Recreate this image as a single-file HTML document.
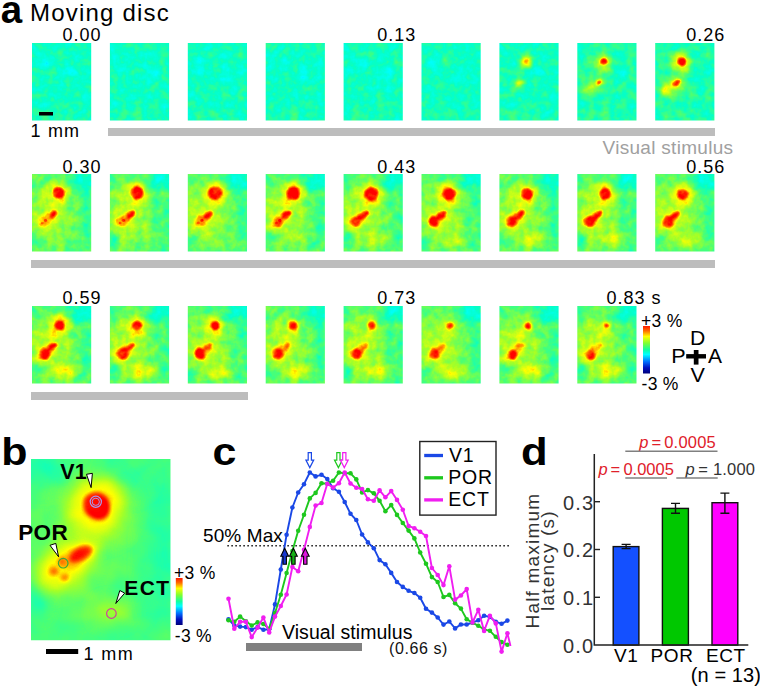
<!DOCTYPE html><html><head><meta charset="utf-8"><style>
html,body{margin:0;padding:0;background:#fff;}
body{width:760px;height:688px;overflow:hidden;position:relative;font-family:'Liberation Sans', sans-serif;}
svg{position:absolute;left:0;top:0;}
</style></head><body>
<svg width="760" height="688" viewBox="0 0 760 688" font-family="'Liberation Sans', sans-serif">
<defs>
<filter id="jet0" x="0" y="0" width="1" height="1" color-interpolation-filters="sRGB"><feTurbulence type="fractalNoise" baseFrequency="0.12" numOctaves="3" seed="7" result="n"/><feColorMatrix in="n" type="matrix" values="1 0 0 0 0  1 0 0 0 0  1 0 0 0 0  0 0 0 0 1" result="ng"/><feComposite in="SourceGraphic" in2="ng" operator="arithmetic" k1="0" k2="1" k3="0.2" k4="-0.1" result="s"/><feComponentTransfer in="s"><feFuncR type="table" tableValues="0 0 0 0 0 0.02 0.3 0.65 1 1 1"/><feFuncG type="table" tableValues="0 0 0.25 0.65 1 1 1 1 1 0.45 0"/><feFuncB type="table" tableValues="0.5 0.75 1 1 1 0.78 0.45 0.15 0 0 0"/></feComponentTransfer></filter>
<filter id="jet1" x="0" y="0" width="1" height="1" color-interpolation-filters="sRGB"><feTurbulence type="fractalNoise" baseFrequency="0.12" numOctaves="3" seed="20" result="n"/><feColorMatrix in="n" type="matrix" values="1 0 0 0 0  1 0 0 0 0  1 0 0 0 0  0 0 0 0 1" result="ng"/><feComposite in="SourceGraphic" in2="ng" operator="arithmetic" k1="0" k2="1" k3="0.2" k4="-0.1" result="s"/><feComponentTransfer in="s"><feFuncR type="table" tableValues="0 0 0 0 0 0.02 0.3 0.65 1 1 1"/><feFuncG type="table" tableValues="0 0 0.25 0.65 1 1 1 1 1 0.45 0"/><feFuncB type="table" tableValues="0.5 0.75 1 1 1 0.78 0.45 0.15 0 0 0"/></feComponentTransfer></filter>
<filter id="jet2" x="0" y="0" width="1" height="1" color-interpolation-filters="sRGB"><feTurbulence type="fractalNoise" baseFrequency="0.12" numOctaves="3" seed="33" result="n"/><feColorMatrix in="n" type="matrix" values="1 0 0 0 0  1 0 0 0 0  1 0 0 0 0  0 0 0 0 1" result="ng"/><feComposite in="SourceGraphic" in2="ng" operator="arithmetic" k1="0" k2="1" k3="0.2" k4="-0.1" result="s"/><feComponentTransfer in="s"><feFuncR type="table" tableValues="0 0 0 0 0 0.02 0.3 0.65 1 1 1"/><feFuncG type="table" tableValues="0 0 0.25 0.65 1 1 1 1 1 0.45 0"/><feFuncB type="table" tableValues="0.5 0.75 1 1 1 0.78 0.45 0.15 0 0 0"/></feComponentTransfer></filter>
<filter id="jet3" x="0" y="0" width="1" height="1" color-interpolation-filters="sRGB"><feTurbulence type="fractalNoise" baseFrequency="0.12" numOctaves="3" seed="46" result="n"/><feColorMatrix in="n" type="matrix" values="1 0 0 0 0  1 0 0 0 0  1 0 0 0 0  0 0 0 0 1" result="ng"/><feComposite in="SourceGraphic" in2="ng" operator="arithmetic" k1="0" k2="1" k3="0.2" k4="-0.1" result="s"/><feComponentTransfer in="s"><feFuncR type="table" tableValues="0 0 0 0 0 0.02 0.3 0.65 1 1 1"/><feFuncG type="table" tableValues="0 0 0.25 0.65 1 1 1 1 1 0.45 0"/><feFuncB type="table" tableValues="0.5 0.75 1 1 1 0.78 0.45 0.15 0 0 0"/></feComponentTransfer></filter>
<filter id="jet4" x="0" y="0" width="1" height="1" color-interpolation-filters="sRGB"><feTurbulence type="fractalNoise" baseFrequency="0.12" numOctaves="3" seed="59" result="n"/><feColorMatrix in="n" type="matrix" values="1 0 0 0 0  1 0 0 0 0  1 0 0 0 0  0 0 0 0 1" result="ng"/><feComposite in="SourceGraphic" in2="ng" operator="arithmetic" k1="0" k2="1" k3="0.2" k4="-0.1" result="s"/><feComponentTransfer in="s"><feFuncR type="table" tableValues="0 0 0 0 0 0.02 0.3 0.65 1 1 1"/><feFuncG type="table" tableValues="0 0 0.25 0.65 1 1 1 1 1 0.45 0"/><feFuncB type="table" tableValues="0.5 0.75 1 1 1 0.78 0.45 0.15 0 0 0"/></feComponentTransfer></filter>
<filter id="jet5" x="0" y="0" width="1" height="1" color-interpolation-filters="sRGB"><feTurbulence type="fractalNoise" baseFrequency="0.12" numOctaves="3" seed="72" result="n"/><feColorMatrix in="n" type="matrix" values="1 0 0 0 0  1 0 0 0 0  1 0 0 0 0  0 0 0 0 1" result="ng"/><feComposite in="SourceGraphic" in2="ng" operator="arithmetic" k1="0" k2="1" k3="0.2" k4="-0.1" result="s"/><feComponentTransfer in="s"><feFuncR type="table" tableValues="0 0 0 0 0 0.02 0.3 0.65 1 1 1"/><feFuncG type="table" tableValues="0 0 0.25 0.65 1 1 1 1 1 0.45 0"/><feFuncB type="table" tableValues="0.5 0.75 1 1 1 0.78 0.45 0.15 0 0 0"/></feComponentTransfer></filter>
<filter id="jetb" x="0" y="0" width="1" height="1" color-interpolation-filters="sRGB"><feTurbulence type="fractalNoise" baseFrequency="0.1" numOctaves="2" seed="3" result="n"/><feColorMatrix in="n" type="matrix" values="1 0 0 0 0  1 0 0 0 0  1 0 0 0 0  0 0 0 0 1" result="ng"/><feComposite in="SourceGraphic" in2="ng" operator="arithmetic" k1="0" k2="1" k3="0.08" k4="-0.04" result="s"/><feComponentTransfer in="s"><feFuncR type="table" tableValues="0 0 0 0 0 0.02 0.3 0.65 1 1 1"/><feFuncG type="table" tableValues="0 0 0.25 0.65 1 1 1 1 1 0.45 0"/><feFuncB type="table" tableValues="0.5 0.75 1 1 1 0.78 0.45 0.15 0 0 0"/></feComponentTransfer></filter>
<filter id="b0.7" x="-100%" y="-100%" width="300%" height="300%"><feGaussianBlur stdDeviation="0.7"/></filter>
<filter id="b0.8" x="-100%" y="-100%" width="300%" height="300%"><feGaussianBlur stdDeviation="0.8"/></filter>
<filter id="b0.9" x="-100%" y="-100%" width="300%" height="300%"><feGaussianBlur stdDeviation="0.9"/></filter>
<filter id="b1" x="-100%" y="-100%" width="300%" height="300%"><feGaussianBlur stdDeviation="1"/></filter>
<filter id="b1.2" x="-100%" y="-100%" width="300%" height="300%"><feGaussianBlur stdDeviation="1.2"/></filter>
<filter id="b1.5" x="-100%" y="-100%" width="300%" height="300%"><feGaussianBlur stdDeviation="1.5"/></filter>
<filter id="b1.6" x="-100%" y="-100%" width="300%" height="300%"><feGaussianBlur stdDeviation="1.6"/></filter>
<filter id="b1.8" x="-100%" y="-100%" width="300%" height="300%"><feGaussianBlur stdDeviation="1.8"/></filter>
<filter id="b2" x="-100%" y="-100%" width="300%" height="300%"><feGaussianBlur stdDeviation="2"/></filter>
<filter id="b2.5" x="-100%" y="-100%" width="300%" height="300%"><feGaussianBlur stdDeviation="2.5"/></filter>
<filter id="b3" x="-100%" y="-100%" width="300%" height="300%"><feGaussianBlur stdDeviation="3"/></filter>
<filter id="b3.5" x="-100%" y="-100%" width="300%" height="300%"><feGaussianBlur stdDeviation="3.5"/></filter>
<filter id="b4" x="-100%" y="-100%" width="300%" height="300%"><feGaussianBlur stdDeviation="4"/></filter>
<filter id="b4.5" x="-100%" y="-100%" width="300%" height="300%"><feGaussianBlur stdDeviation="4.5"/></filter>
<filter id="b5" x="-100%" y="-100%" width="300%" height="300%"><feGaussianBlur stdDeviation="5"/></filter>
<filter id="b6" x="-100%" y="-100%" width="300%" height="300%"><feGaussianBlur stdDeviation="6"/></filter>
<filter id="b7" x="-100%" y="-100%" width="300%" height="300%"><feGaussianBlur stdDeviation="7"/></filter>
<filter id="b8" x="-100%" y="-100%" width="300%" height="300%"><feGaussianBlur stdDeviation="8"/></filter>
<clipPath id="fc"><rect x="0" y="0" width="59.2" height="77.6"/></clipPath>
<linearGradient id="cbar" x1="0" y1="0" x2="0" y2="1"><stop offset="0" stop-color="#ff1a00"/><stop offset="0.1" stop-color="#ff6a00"/><stop offset="0.22" stop-color="#ffff00"/><stop offset="0.36" stop-color="#80ff30"/><stop offset="0.5" stop-color="#10ffa0"/><stop offset="0.6" stop-color="#00ffff"/><stop offset="0.75" stop-color="#0070ff"/><stop offset="0.88" stop-color="#0010c0"/><stop offset="1" stop-color="#00007a"/></linearGradient>
</defs>
<g transform="translate(32.0,43)"><g clip-path="url(#fc)"><g filter="url(#jet1)"><rect x="-5" y="-5" width="69.2" height="87.6" fill="rgb(129,129,129)"/><ellipse cx="20" cy="72" rx="14" ry="5" transform="rotate(0 20 72)" fill="rgb(140,140,140)" filter="url(#b3)"/><ellipse cx="45" cy="70" rx="6" ry="4" transform="rotate(0 45 70)" fill="rgb(138,138,138)" filter="url(#b2)"/><ellipse cx="12" cy="20" rx="8" ry="8" transform="rotate(0 12 20)" fill="rgb(115,115,115)" filter="url(#b3)"/><ellipse cx="40" cy="30" rx="10" ry="10" transform="rotate(0 40 30)" fill="rgb(116,116,116)" filter="url(#b4)"/></g></g></g>
<g transform="translate(109.9,43)"><g clip-path="url(#fc)"><g filter="url(#jet2)"><rect x="-5" y="-5" width="69.2" height="87.6" fill="rgb(129,129,129)"/><ellipse cx="20" cy="72" rx="14" ry="5" transform="rotate(0 20 72)" fill="rgb(140,140,140)" filter="url(#b3)"/><ellipse cx="45" cy="70" rx="6" ry="4" transform="rotate(0 45 70)" fill="rgb(138,138,138)" filter="url(#b2)"/><ellipse cx="12" cy="20" rx="8" ry="8" transform="rotate(0 12 20)" fill="rgb(115,115,115)" filter="url(#b3)"/><ellipse cx="40" cy="30" rx="10" ry="10" transform="rotate(0 40 30)" fill="rgb(116,116,116)" filter="url(#b4)"/></g></g></g>
<g transform="translate(187.8,43)"><g clip-path="url(#fc)"><g filter="url(#jet3)"><rect x="-5" y="-5" width="69.2" height="87.6" fill="rgb(129,129,129)"/><ellipse cx="20" cy="72" rx="14" ry="5" transform="rotate(0 20 72)" fill="rgb(140,140,140)" filter="url(#b3)"/><ellipse cx="45" cy="70" rx="6" ry="4" transform="rotate(0 45 70)" fill="rgb(138,138,138)" filter="url(#b2)"/><ellipse cx="12" cy="20" rx="8" ry="8" transform="rotate(0 12 20)" fill="rgb(115,115,115)" filter="url(#b3)"/><ellipse cx="40" cy="30" rx="10" ry="10" transform="rotate(0 40 30)" fill="rgb(116,116,116)" filter="url(#b4)"/></g></g></g>
<g transform="translate(265.7,43)"><g clip-path="url(#fc)"><g filter="url(#jet4)"><rect x="-5" y="-5" width="69.2" height="87.6" fill="rgb(129,129,129)"/><ellipse cx="20" cy="72" rx="14" ry="5" transform="rotate(0 20 72)" fill="rgb(140,140,140)" filter="url(#b3)"/><ellipse cx="45" cy="70" rx="6" ry="4" transform="rotate(0 45 70)" fill="rgb(138,138,138)" filter="url(#b2)"/><ellipse cx="12" cy="20" rx="8" ry="8" transform="rotate(0 12 20)" fill="rgb(115,115,115)" filter="url(#b3)"/><ellipse cx="40" cy="30" rx="10" ry="10" transform="rotate(0 40 30)" fill="rgb(116,116,116)" filter="url(#b4)"/></g></g></g>
<g transform="translate(343.6,43)"><g clip-path="url(#fc)"><g filter="url(#jet5)"><rect x="-5" y="-5" width="69.2" height="87.6" fill="rgb(129,129,129)"/><ellipse cx="20" cy="72" rx="14" ry="5" transform="rotate(0 20 72)" fill="rgb(140,140,140)" filter="url(#b3)"/><ellipse cx="45" cy="70" rx="6" ry="4" transform="rotate(0 45 70)" fill="rgb(138,138,138)" filter="url(#b2)"/><ellipse cx="12" cy="20" rx="8" ry="8" transform="rotate(0 12 20)" fill="rgb(115,115,115)" filter="url(#b3)"/><ellipse cx="40" cy="30" rx="10" ry="10" transform="rotate(0 40 30)" fill="rgb(116,116,116)" filter="url(#b4)"/></g></g></g>
<g transform="translate(421.5,43)"><g clip-path="url(#fc)"><g filter="url(#jet0)"><rect x="-5" y="-5" width="69.2" height="87.6" fill="rgb(129,129,129)"/><ellipse cx="20" cy="72" rx="14" ry="5" transform="rotate(0 20 72)" fill="rgb(140,140,140)" filter="url(#b3)"/><ellipse cx="12" cy="20" rx="8" ry="8" transform="rotate(0 12 20)" fill="rgb(115,115,115)" filter="url(#b3)"/><ellipse cx="40" cy="30" rx="10" ry="10" transform="rotate(0 40 30)" fill="rgb(116,116,116)" filter="url(#b4)"/><ellipse cx="26" cy="18" rx="5" ry="5" transform="rotate(0 26 18)" fill="rgb(153,153,153)" filter="url(#b2)"/><ellipse cx="20" cy="40" rx="6" ry="4" transform="rotate(-35 20 40)" fill="rgb(140,140,140)" filter="url(#b2)"/></g></g></g>
<g transform="translate(499.4,43)"><g clip-path="url(#fc)"><g filter="url(#jet1)"><rect x="-5" y="-5" width="69.2" height="87.6" fill="rgb(130,130,130)"/><ellipse cx="20" cy="72" rx="14" ry="5" transform="rotate(0 20 72)" fill="rgb(145,145,145)" filter="url(#b3)"/><ellipse cx="40" cy="30" rx="10" ry="10" transform="rotate(0 40 30)" fill="rgb(121,121,121)" filter="url(#b4)"/><ellipse cx="18" cy="42" rx="10" ry="5" transform="rotate(-35 18 42)" fill="rgb(158,158,158)" filter="url(#b3)"/><ellipse cx="26.5" cy="19.0" rx="6.5" ry="6.5" transform="rotate(0 26.5 19.0)" fill="rgb(194,194,194)" filter="url(#b2)"/><ellipse cx="26.5" cy="18.5" rx="2.6" ry="2.4699999999999998" transform="rotate(0 26.5 18.5)" fill="rgb(219,219,219)" filter="url(#b1)"/><ellipse cx="20" cy="40.5" rx="4" ry="2.5" transform="rotate(-35 20 40.5)" fill="rgb(194,194,194)" filter="url(#b1.5)"/></g></g></g>
<g transform="translate(577.3,43)"><g clip-path="url(#fc)"><g filter="url(#jet2)"><rect x="-5" y="-5" width="69.2" height="87.6" fill="rgb(134,134,134)"/><ellipse cx="20" cy="72" rx="14" ry="5" transform="rotate(0 20 72)" fill="rgb(145,145,145)" filter="url(#b3)"/><ellipse cx="40" cy="30" rx="10" ry="10" transform="rotate(0 40 30)" fill="rgb(120,120,120)" filter="url(#b4)"/><ellipse cx="20" cy="34" rx="15" ry="22" transform="rotate(0 20 34)" fill="rgb(145,145,145)" filter="url(#b6)"/><ellipse cx="17" cy="43" rx="12" ry="6" transform="rotate(-35 17 43)" fill="rgb(168,168,168)" filter="url(#b3)"/><ellipse cx="12" cy="46" rx="5.5" ry="3.2" transform="rotate(-35 12 46)" fill="rgb(194,194,194)" filter="url(#b2)"/><ellipse cx="26.5" cy="19.0" rx="8.5" ry="8.5" transform="rotate(0 26.5 19.0)" fill="rgb(189,189,189)" filter="url(#b3)"/><ellipse cx="26.5" cy="18.5" rx="3.6" ry="3.42" transform="rotate(0 26.5 18.5)" fill="rgb(255,255,255)" filter="url(#b1)"/><ellipse cx="21" cy="39.5" rx="4.5" ry="2.8" transform="rotate(-35 21 39.5)" fill="rgb(199,199,199)" filter="url(#b1.5)"/><ellipse cx="21.5" cy="39.5" rx="2.6" ry="1.8" transform="rotate(-35 21.5 39.5)" fill="rgb(255,255,255)" filter="url(#b0.8)"/></g></g></g>
<g transform="translate(655.2,43)"><g clip-path="url(#fc)"><g filter="url(#jet3)"><rect x="-5" y="-5" width="69.2" height="87.6" fill="rgb(134,134,134)"/><ellipse cx="20" cy="72" rx="14" ry="5" transform="rotate(0 20 72)" fill="rgb(145,145,145)" filter="url(#b3)"/><ellipse cx="40" cy="30" rx="10" ry="10" transform="rotate(0 40 30)" fill="rgb(120,120,120)" filter="url(#b4)"/><ellipse cx="20" cy="34" rx="16" ry="24" transform="rotate(0 20 34)" fill="rgb(150,150,150)" filter="url(#b6)"/><ellipse cx="16" cy="44" rx="14" ry="7" transform="rotate(-35 16 44)" fill="rgb(173,173,173)" filter="url(#b3)"/><ellipse cx="11" cy="47" rx="6.5" ry="3.8" transform="rotate(-35 11 47)" fill="rgb(199,199,199)" filter="url(#b2)"/><ellipse cx="26.5" cy="19.0" rx="10" ry="10" transform="rotate(0 26.5 19.0)" fill="rgb(194,194,194)" filter="url(#b3)"/><ellipse cx="26.5" cy="18.5" rx="4.6" ry="4.369999999999999" transform="rotate(0 26.5 18.5)" fill="rgb(255,255,255)" filter="url(#b1)"/><ellipse cx="20" cy="40.5" rx="7" ry="3.8" transform="rotate(-35 20 40.5)" fill="rgb(204,204,204)" filter="url(#b1.5)"/><ellipse cx="21.5" cy="39.7" rx="4.2" ry="2.3" transform="rotate(-35 21.5 39.7)" fill="rgb(255,255,255)" filter="url(#b0.8)"/></g></g></g>
<g transform="translate(32.0,174)"><g clip-path="url(#fc)"><g filter="url(#jet4)"><rect x="-5" y="-5" width="69.2" height="87.6" fill="rgb(153,153,153)"/><ellipse cx="18" cy="42" rx="22" ry="32" transform="rotate(0 18 42)" fill="rgb(178,178,178)" filter="url(#b7)"/><ellipse cx="52" cy="6" rx="12" ry="10" transform="rotate(0 52 6)" fill="rgb(117,117,117)" filter="url(#b4)"/><ellipse cx="57" cy="42" rx="5" ry="22" transform="rotate(0 57 42)" fill="rgb(143,143,143)" filter="url(#b4)"/><ellipse cx="4" cy="66" rx="5" ry="6" transform="rotate(0 4 66)" fill="rgb(133,133,133)" filter="url(#b3)"/><ellipse cx="23" cy="30" rx="4" ry="10" transform="rotate(20 23 30)" fill="rgb(189,189,189)" filter="url(#b3)"/><ellipse cx="33" cy="66" rx="8.5" ry="5.25" transform="rotate(0 33 66)" fill="rgb(158,158,158)" filter="url(#b3)"/><ellipse cx="15" cy="45" rx="14.0" ry="8.0" transform="rotate(-38 15 45)" fill="rgb(189,189,189)" filter="url(#b3)"/><ellipse cx="16.5" cy="44" rx="10" ry="4.8" transform="rotate(-38 16.5 44)" fill="rgb(214,214,214)" filter="url(#b1.6)"/><ellipse cx="12" cy="47.5" rx="5.9" ry="5.4" transform="rotate(0 12 47.5)" fill="rgb(214,214,214)" filter="url(#b1.6)"/><ellipse cx="21" cy="40.5" rx="4.6" ry="2.5" transform="rotate(-38 21 40.5)" fill="rgb(255,255,255)" filter="url(#b0.8)"/><ellipse cx="12" cy="47.5" rx="3.6" ry="3.9600000000000004" transform="rotate(0 12 47.5)" fill="rgb(219,219,219)" filter="url(#b1.2)"/><ellipse cx="13.5" cy="46.5" rx="1.6" ry="1.4" transform="rotate(0 13.5 46.5)" fill="rgb(240,240,240)" filter="url(#b0.7)"/><ellipse cx="10.2" cy="49.0" rx="1.4" ry="1.2" transform="rotate(0 10.2 49.0)" fill="rgb(235,235,235)" filter="url(#b0.7)"/><ellipse cx="26.5" cy="19.1" rx="11" ry="11" transform="rotate(0 26.5 19.1)" fill="rgb(199,199,199)" filter="url(#b2.5)"/><ellipse cx="26.5" cy="18.6" rx="6.0" ry="5.699999999999999" transform="rotate(0 26.5 18.6)" fill="rgb(255,255,255)" filter="url(#b1)"/></g></g></g>
<g transform="translate(109.9,174)"><g clip-path="url(#fc)"><g filter="url(#jet5)"><rect x="-5" y="-5" width="69.2" height="87.6" fill="rgb(153,153,153)"/><ellipse cx="18" cy="42" rx="22" ry="32" transform="rotate(0 18 42)" fill="rgb(178,178,178)" filter="url(#b7)"/><ellipse cx="52" cy="6" rx="12" ry="10" transform="rotate(0 52 6)" fill="rgb(117,117,117)" filter="url(#b4)"/><ellipse cx="57" cy="42" rx="5" ry="22" transform="rotate(0 57 42)" fill="rgb(143,143,143)" filter="url(#b4)"/><ellipse cx="4" cy="66" rx="5" ry="6" transform="rotate(0 4 66)" fill="rgb(133,133,133)" filter="url(#b3)"/><ellipse cx="23" cy="30" rx="4" ry="10" transform="rotate(20 23 30)" fill="rgb(189,189,189)" filter="url(#b3)"/><ellipse cx="33" cy="66" rx="8.5" ry="5.25" transform="rotate(0 33 66)" fill="rgb(163,163,163)" filter="url(#b3)"/><ellipse cx="15" cy="45" rx="14.0" ry="8.0" transform="rotate(-38 15 45)" fill="rgb(189,189,189)" filter="url(#b3)"/><ellipse cx="16.5" cy="44" rx="10" ry="4.8" transform="rotate(-38 16.5 44)" fill="rgb(214,214,214)" filter="url(#b1.6)"/><ellipse cx="12" cy="47.5" rx="6.3" ry="5.8" transform="rotate(0 12 47.5)" fill="rgb(214,214,214)" filter="url(#b1.6)"/><ellipse cx="21" cy="40.5" rx="5" ry="2.7" transform="rotate(-38 21 40.5)" fill="rgb(255,255,255)" filter="url(#b0.8)"/><ellipse cx="12" cy="47.5" rx="4" ry="4.4" transform="rotate(0 12 47.5)" fill="rgb(224,224,224)" filter="url(#b1.2)"/><ellipse cx="13.5" cy="46.5" rx="1.6" ry="1.4" transform="rotate(0 13.5 46.5)" fill="rgb(245,245,245)" filter="url(#b0.7)"/><ellipse cx="10.2" cy="49.0" rx="1.4" ry="1.2" transform="rotate(0 10.2 49.0)" fill="rgb(240,240,240)" filter="url(#b0.7)"/><ellipse cx="27" cy="19.5" rx="11" ry="11" transform="rotate(0 27 19.5)" fill="rgb(199,199,199)" filter="url(#b2.5)"/><ellipse cx="27" cy="19" rx="6.6" ry="6.27" transform="rotate(0 27 19)" fill="rgb(255,255,255)" filter="url(#b1)"/></g></g></g>
<g transform="translate(187.8,174)"><g clip-path="url(#fc)"><g filter="url(#jet0)"><rect x="-5" y="-5" width="69.2" height="87.6" fill="rgb(153,153,153)"/><ellipse cx="18" cy="42" rx="22" ry="32" transform="rotate(0 18 42)" fill="rgb(178,178,178)" filter="url(#b7)"/><ellipse cx="52" cy="6" rx="12" ry="10" transform="rotate(0 52 6)" fill="rgb(117,117,117)" filter="url(#b4)"/><ellipse cx="57" cy="42" rx="5" ry="22" transform="rotate(0 57 42)" fill="rgb(143,143,143)" filter="url(#b4)"/><ellipse cx="4" cy="66" rx="5" ry="6" transform="rotate(0 4 66)" fill="rgb(133,133,133)" filter="url(#b3)"/><ellipse cx="23" cy="30" rx="4" ry="10" transform="rotate(20 23 30)" fill="rgb(189,189,189)" filter="url(#b3)"/><ellipse cx="33" cy="66" rx="9.35" ry="5.775" transform="rotate(0 33 66)" fill="rgb(168,168,168)" filter="url(#b3)"/><ellipse cx="15" cy="45" rx="14.0" ry="8.0" transform="rotate(-38 15 45)" fill="rgb(189,189,189)" filter="url(#b3)"/><ellipse cx="16.5" cy="44" rx="10" ry="4.8" transform="rotate(-38 16.5 44)" fill="rgb(214,214,214)" filter="url(#b1.6)"/><ellipse cx="12.5" cy="47.5" rx="6.6" ry="6.1" transform="rotate(0 12.5 47.5)" fill="rgb(214,214,214)" filter="url(#b1.6)"/><ellipse cx="20.5" cy="41" rx="5.5" ry="2.8" transform="rotate(-38 20.5 41)" fill="rgb(255,255,255)" filter="url(#b0.8)"/><ellipse cx="12.5" cy="47.5" rx="4.3" ry="4.73" transform="rotate(0 12.5 47.5)" fill="rgb(230,230,230)" filter="url(#b1.2)"/><ellipse cx="14.0" cy="46.5" rx="1.6" ry="1.4" transform="rotate(0 14.0 46.5)" fill="rgb(250,250,250)" filter="url(#b0.7)"/><ellipse cx="10.7" cy="49.0" rx="1.4" ry="1.2" transform="rotate(0 10.7 49.0)" fill="rgb(245,245,245)" filter="url(#b0.7)"/><ellipse cx="27.3" cy="19.8" rx="12" ry="12" transform="rotate(0 27.3 19.8)" fill="rgb(199,199,199)" filter="url(#b2.5)"/><ellipse cx="27.3" cy="19.3" rx="7.0" ry="6.6499999999999995" transform="rotate(0 27.3 19.3)" fill="rgb(255,255,255)" filter="url(#b1)"/></g></g></g>
<g transform="translate(265.7,174)"><g clip-path="url(#fc)"><g filter="url(#jet1)"><rect x="-5" y="-5" width="69.2" height="87.6" fill="rgb(153,153,153)"/><ellipse cx="18" cy="42" rx="22" ry="32" transform="rotate(0 18 42)" fill="rgb(178,178,178)" filter="url(#b7)"/><ellipse cx="52" cy="6" rx="12" ry="10" transform="rotate(0 52 6)" fill="rgb(117,117,117)" filter="url(#b4)"/><ellipse cx="57" cy="42" rx="5" ry="22" transform="rotate(0 57 42)" fill="rgb(143,143,143)" filter="url(#b4)"/><ellipse cx="4" cy="66" rx="5" ry="6" transform="rotate(0 4 66)" fill="rgb(133,133,133)" filter="url(#b3)"/><ellipse cx="23" cy="30" rx="4" ry="10" transform="rotate(20 23 30)" fill="rgb(189,189,189)" filter="url(#b3)"/><ellipse cx="33" cy="66" rx="9.35" ry="5.775" transform="rotate(0 33 66)" fill="rgb(173,173,173)" filter="url(#b3)"/><ellipse cx="15" cy="45" rx="14.0" ry="8.0" transform="rotate(-38 15 45)" fill="rgb(189,189,189)" filter="url(#b3)"/><ellipse cx="16.5" cy="44" rx="10" ry="4.8" transform="rotate(-38 16.5 44)" fill="rgb(214,214,214)" filter="url(#b1.6)"/><ellipse cx="12.5" cy="47.5" rx="6.7" ry="6.2" transform="rotate(0 12.5 47.5)" fill="rgb(214,214,214)" filter="url(#b1.6)"/><ellipse cx="20.5" cy="41" rx="6" ry="2.9" transform="rotate(-38 20.5 41)" fill="rgb(255,255,255)" filter="url(#b0.8)"/><ellipse cx="12.5" cy="47.5" rx="4.4" ry="4.840000000000001" transform="rotate(0 12.5 47.5)" fill="rgb(237,237,237)" filter="url(#b1.2)"/><ellipse cx="14.0" cy="46.5" rx="1.6" ry="1.4" transform="rotate(0 14.0 46.5)" fill="rgb(255,255,255)" filter="url(#b0.7)"/><ellipse cx="10.7" cy="49.0" rx="1.4" ry="1.2" transform="rotate(0 10.7 49.0)" fill="rgb(252,252,252)" filter="url(#b0.7)"/><ellipse cx="27.5" cy="20.0" rx="12" ry="12" transform="rotate(0 27.5 20.0)" fill="rgb(199,199,199)" filter="url(#b2.5)"/><ellipse cx="27.5" cy="19.5" rx="7.0" ry="6.6499999999999995" transform="rotate(0 27.5 19.5)" fill="rgb(255,255,255)" filter="url(#b1)"/></g></g></g>
<g transform="translate(343.6,174)"><g clip-path="url(#fc)"><g filter="url(#jet2)"><rect x="-5" y="-5" width="69.2" height="87.6" fill="rgb(153,153,153)"/><ellipse cx="18" cy="42" rx="22" ry="32" transform="rotate(0 18 42)" fill="rgb(178,178,178)" filter="url(#b7)"/><ellipse cx="52" cy="6" rx="12" ry="10" transform="rotate(0 52 6)" fill="rgb(117,117,117)" filter="url(#b4)"/><ellipse cx="57" cy="42" rx="5" ry="22" transform="rotate(0 57 42)" fill="rgb(143,143,143)" filter="url(#b4)"/><ellipse cx="4" cy="66" rx="5" ry="6" transform="rotate(0 4 66)" fill="rgb(133,133,133)" filter="url(#b3)"/><ellipse cx="23" cy="30" rx="4" ry="10" transform="rotate(20 23 30)" fill="rgb(189,189,189)" filter="url(#b3)"/><ellipse cx="34" cy="66" rx="10.2" ry="6.300000000000001" transform="rotate(0 34 66)" fill="rgb(184,184,184)" filter="url(#b3)"/><ellipse cx="15" cy="45" rx="14.0" ry="8.0" transform="rotate(-38 15 45)" fill="rgb(189,189,189)" filter="url(#b3)"/><ellipse cx="16.5" cy="44" rx="10" ry="4.8" transform="rotate(-38 16.5 44)" fill="rgb(214,214,214)" filter="url(#b1.6)"/><ellipse cx="12" cy="47.5" rx="6.5" ry="6.0" transform="rotate(0 12 47.5)" fill="rgb(214,214,214)" filter="url(#b1.6)"/><ellipse cx="19" cy="42" rx="7.5" ry="3" transform="rotate(-38 19 42)" fill="rgb(255,255,255)" filter="url(#b0.8)"/><ellipse cx="12" cy="47.5" rx="4.2" ry="4.620000000000001" transform="rotate(0 12 47.5)" fill="rgb(255,255,255)" filter="url(#b0.8)"/><ellipse cx="27.8" cy="20.3" rx="12" ry="12" transform="rotate(0 27.8 20.3)" fill="rgb(199,199,199)" filter="url(#b2.5)"/><ellipse cx="27.8" cy="19.8" rx="7.2" ry="6.84" transform="rotate(0 27.8 19.8)" fill="rgb(255,255,255)" filter="url(#b1)"/></g></g></g>
<g transform="translate(421.5,174)"><g clip-path="url(#fc)"><g filter="url(#jet3)"><rect x="-5" y="-5" width="69.2" height="87.6" fill="rgb(153,153,153)"/><ellipse cx="18" cy="42" rx="22" ry="32" transform="rotate(0 18 42)" fill="rgb(178,178,178)" filter="url(#b7)"/><ellipse cx="52" cy="6" rx="12" ry="10" transform="rotate(0 52 6)" fill="rgb(117,117,117)" filter="url(#b4)"/><ellipse cx="57" cy="42" rx="5" ry="22" transform="rotate(0 57 42)" fill="rgb(143,143,143)" filter="url(#b4)"/><ellipse cx="4" cy="66" rx="5" ry="6" transform="rotate(0 4 66)" fill="rgb(133,133,133)" filter="url(#b3)"/><ellipse cx="23" cy="30" rx="4" ry="10" transform="rotate(20 23 30)" fill="rgb(189,189,189)" filter="url(#b3)"/><ellipse cx="34" cy="66" rx="10.2" ry="6.300000000000001" transform="rotate(0 34 66)" fill="rgb(189,189,189)" filter="url(#b3)"/><ellipse cx="15" cy="45" rx="14.0" ry="8.0" transform="rotate(-38 15 45)" fill="rgb(189,189,189)" filter="url(#b3)"/><ellipse cx="16.5" cy="44" rx="10" ry="4.8" transform="rotate(-38 16.5 44)" fill="rgb(214,214,214)" filter="url(#b1.6)"/><ellipse cx="12.5" cy="47.5" rx="6.8" ry="6.3" transform="rotate(0 12.5 47.5)" fill="rgb(214,214,214)" filter="url(#b1.6)"/><ellipse cx="19" cy="42" rx="7.5" ry="2.9" transform="rotate(-38 19 42)" fill="rgb(255,255,255)" filter="url(#b0.8)"/><ellipse cx="12.5" cy="47.5" rx="4.5" ry="4.95" transform="rotate(0 12.5 47.5)" fill="rgb(255,255,255)" filter="url(#b0.8)"/><ellipse cx="27.5" cy="20.5" rx="12" ry="12" transform="rotate(0 27.5 20.5)" fill="rgb(199,199,199)" filter="url(#b2.5)"/><ellipse cx="27.5" cy="20" rx="6.6" ry="6.27" transform="rotate(0 27.5 20)" fill="rgb(255,255,255)" filter="url(#b1)"/></g></g></g>
<g transform="translate(499.4,174)"><g clip-path="url(#fc)"><g filter="url(#jet4)"><rect x="-5" y="-5" width="69.2" height="87.6" fill="rgb(153,153,153)"/><ellipse cx="18" cy="42" rx="22" ry="32" transform="rotate(0 18 42)" fill="rgb(178,178,178)" filter="url(#b7)"/><ellipse cx="52" cy="6" rx="12" ry="10" transform="rotate(0 52 6)" fill="rgb(117,117,117)" filter="url(#b4)"/><ellipse cx="57" cy="42" rx="5" ry="22" transform="rotate(0 57 42)" fill="rgb(143,143,143)" filter="url(#b4)"/><ellipse cx="4" cy="66" rx="5" ry="6" transform="rotate(0 4 66)" fill="rgb(133,133,133)" filter="url(#b3)"/><ellipse cx="23" cy="30" rx="4" ry="10" transform="rotate(20 23 30)" fill="rgb(189,189,189)" filter="url(#b3)"/><ellipse cx="34" cy="66" rx="10.2" ry="6.300000000000001" transform="rotate(0 34 66)" fill="rgb(194,194,194)" filter="url(#b3)"/><ellipse cx="15" cy="45" rx="14.0" ry="8.0" transform="rotate(-38 15 45)" fill="rgb(189,189,189)" filter="url(#b3)"/><ellipse cx="16.5" cy="44" rx="10" ry="4.8" transform="rotate(-38 16.5 44)" fill="rgb(214,214,214)" filter="url(#b1.6)"/><ellipse cx="12.5" cy="47.5" rx="6.8999999999999995" ry="6.3999999999999995" transform="rotate(0 12.5 47.5)" fill="rgb(214,214,214)" filter="url(#b1.6)"/><ellipse cx="19.5" cy="41.5" rx="7" ry="2.7" transform="rotate(-38 19.5 41.5)" fill="rgb(255,255,255)" filter="url(#b0.8)"/><ellipse cx="12.5" cy="47.5" rx="4.6" ry="5.06" transform="rotate(0 12.5 47.5)" fill="rgb(255,255,255)" filter="url(#b0.8)"/><ellipse cx="27.5" cy="20.5" rx="11" ry="11" transform="rotate(0 27.5 20.5)" fill="rgb(199,199,199)" filter="url(#b2.5)"/><ellipse cx="27.5" cy="20" rx="6.0" ry="5.699999999999999" transform="rotate(0 27.5 20)" fill="rgb(255,255,255)" filter="url(#b1)"/></g></g></g>
<g transform="translate(577.3,174)"><g clip-path="url(#fc)"><g filter="url(#jet5)"><rect x="-5" y="-5" width="69.2" height="87.6" fill="rgb(153,153,153)"/><ellipse cx="18" cy="42" rx="22" ry="32" transform="rotate(0 18 42)" fill="rgb(178,178,178)" filter="url(#b7)"/><ellipse cx="52" cy="6" rx="12" ry="10" transform="rotate(0 52 6)" fill="rgb(117,117,117)" filter="url(#b4)"/><ellipse cx="57" cy="42" rx="5" ry="22" transform="rotate(0 57 42)" fill="rgb(143,143,143)" filter="url(#b4)"/><ellipse cx="4" cy="66" rx="5" ry="6" transform="rotate(0 4 66)" fill="rgb(133,133,133)" filter="url(#b3)"/><ellipse cx="23" cy="30" rx="4" ry="10" transform="rotate(20 23 30)" fill="rgb(189,189,189)" filter="url(#b3)"/><ellipse cx="34" cy="66" rx="10.2" ry="6.300000000000001" transform="rotate(0 34 66)" fill="rgb(194,194,194)" filter="url(#b3)"/><ellipse cx="15" cy="45" rx="14.0" ry="8.0" transform="rotate(-38 15 45)" fill="rgb(189,189,189)" filter="url(#b3)"/><ellipse cx="16.5" cy="44" rx="10" ry="4.8" transform="rotate(-38 16.5 44)" fill="rgb(214,214,214)" filter="url(#b1.6)"/><ellipse cx="12.5" cy="47.5" rx="7.1" ry="6.6" transform="rotate(0 12.5 47.5)" fill="rgb(214,214,214)" filter="url(#b1.6)"/><ellipse cx="19.5" cy="41.5" rx="7" ry="2.6" transform="rotate(-38 19.5 41.5)" fill="rgb(255,255,255)" filter="url(#b0.8)"/><ellipse cx="12.5" cy="47.5" rx="4.8" ry="5.28" transform="rotate(0 12.5 47.5)" fill="rgb(255,255,255)" filter="url(#b0.8)"/><ellipse cx="27.5" cy="20.5" rx="11" ry="11" transform="rotate(0 27.5 20.5)" fill="rgb(199,199,199)" filter="url(#b2.5)"/><ellipse cx="27.5" cy="20" rx="6.0" ry="5.699999999999999" transform="rotate(0 27.5 20)" fill="rgb(255,255,255)" filter="url(#b1)"/></g></g></g>
<g transform="translate(655.2,174)"><g clip-path="url(#fc)"><g filter="url(#jet0)"><rect x="-5" y="-5" width="69.2" height="87.6" fill="rgb(153,153,153)"/><ellipse cx="18" cy="42" rx="22" ry="32" transform="rotate(0 18 42)" fill="rgb(178,178,178)" filter="url(#b7)"/><ellipse cx="52" cy="6" rx="12" ry="10" transform="rotate(0 52 6)" fill="rgb(117,117,117)" filter="url(#b4)"/><ellipse cx="57" cy="42" rx="5" ry="22" transform="rotate(0 57 42)" fill="rgb(143,143,143)" filter="url(#b4)"/><ellipse cx="4" cy="66" rx="5" ry="6" transform="rotate(0 4 66)" fill="rgb(133,133,133)" filter="url(#b3)"/><ellipse cx="23" cy="30" rx="4" ry="10" transform="rotate(20 23 30)" fill="rgb(189,189,189)" filter="url(#b3)"/><ellipse cx="34" cy="66" rx="10.2" ry="6.300000000000001" transform="rotate(0 34 66)" fill="rgb(194,194,194)" filter="url(#b3)"/><ellipse cx="15" cy="45" rx="14.0" ry="8.0" transform="rotate(-38 15 45)" fill="rgb(189,189,189)" filter="url(#b3)"/><ellipse cx="16.5" cy="44" rx="10" ry="4.8" transform="rotate(-38 16.5 44)" fill="rgb(214,214,214)" filter="url(#b1.6)"/><ellipse cx="13" cy="48" rx="7.3" ry="6.8" transform="rotate(0 13 48)" fill="rgb(214,214,214)" filter="url(#b1.6)"/><ellipse cx="19.5" cy="41.5" rx="6.5" ry="2.4" transform="rotate(-38 19.5 41.5)" fill="rgb(255,255,255)" filter="url(#b0.8)"/><ellipse cx="13" cy="48" rx="5" ry="5.5" transform="rotate(0 13 48)" fill="rgb(255,255,255)" filter="url(#b0.8)"/><ellipse cx="27.6" cy="20.9" rx="11" ry="11" transform="rotate(0 27.6 20.9)" fill="rgb(199,199,199)" filter="url(#b2.5)"/><ellipse cx="27.6" cy="20.4" rx="5.6" ry="5.319999999999999" transform="rotate(0 27.6 20.4)" fill="rgb(255,255,255)" filter="url(#b1)"/></g></g></g>
<g transform="translate(32.0,306)"><g clip-path="url(#fc)"><g filter="url(#jet1)"><rect x="-5" y="-5" width="69.2" height="87.6" fill="rgb(153,153,153)"/><ellipse cx="18" cy="42" rx="22" ry="32" transform="rotate(0 18 42)" fill="rgb(178,178,178)" filter="url(#b7)"/><ellipse cx="52" cy="6" rx="12" ry="10" transform="rotate(0 52 6)" fill="rgb(117,117,117)" filter="url(#b4)"/><ellipse cx="57" cy="42" rx="5" ry="22" transform="rotate(0 57 42)" fill="rgb(143,143,143)" filter="url(#b4)"/><ellipse cx="4" cy="66" rx="5" ry="6" transform="rotate(0 4 66)" fill="rgb(133,133,133)" filter="url(#b3)"/><ellipse cx="23" cy="30" rx="4" ry="10" transform="rotate(20 23 30)" fill="rgb(189,189,189)" filter="url(#b3)"/><ellipse cx="33" cy="66" rx="13.0" ry="6.825" transform="rotate(0 33 66)" fill="rgb(199,199,199)" filter="url(#b3)"/><ellipse cx="15" cy="45" rx="14.0" ry="8.0" transform="rotate(-38 15 45)" fill="rgb(189,189,189)" filter="url(#b3)"/><ellipse cx="16.5" cy="44" rx="10" ry="4.8" transform="rotate(-38 16.5 44)" fill="rgb(214,214,214)" filter="url(#b1.6)"/><ellipse cx="13" cy="47.5" rx="7.5" ry="7.0" transform="rotate(0 13 47.5)" fill="rgb(214,214,214)" filter="url(#b1.6)"/><ellipse cx="19.5" cy="41.5" rx="6.5" ry="2.4" transform="rotate(-38 19.5 41.5)" fill="rgb(255,255,255)" filter="url(#b0.8)"/><ellipse cx="13" cy="47.5" rx="5.2" ry="5.720000000000001" transform="rotate(0 13 47.5)" fill="rgb(255,255,255)" filter="url(#b0.8)"/><ellipse cx="27.5" cy="20.0" rx="11" ry="11" transform="rotate(0 27.5 20.0)" fill="rgb(204,204,204)" filter="url(#b2.5)"/><ellipse cx="27.5" cy="19.5" rx="5.1" ry="4.845" transform="rotate(0 27.5 19.5)" fill="rgb(255,255,255)" filter="url(#b1)"/></g></g></g>
<g transform="translate(109.9,306)"><g clip-path="url(#fc)"><g filter="url(#jet2)"><rect x="-5" y="-5" width="69.2" height="87.6" fill="rgb(153,153,153)"/><ellipse cx="18" cy="42" rx="22" ry="32" transform="rotate(0 18 42)" fill="rgb(178,178,178)" filter="url(#b7)"/><ellipse cx="52" cy="6" rx="12" ry="10" transform="rotate(0 52 6)" fill="rgb(117,117,117)" filter="url(#b4)"/><ellipse cx="57" cy="42" rx="5" ry="22" transform="rotate(0 57 42)" fill="rgb(143,143,143)" filter="url(#b4)"/><ellipse cx="4" cy="66" rx="5" ry="6" transform="rotate(0 4 66)" fill="rgb(133,133,133)" filter="url(#b3)"/><ellipse cx="23" cy="30" rx="4" ry="10" transform="rotate(20 23 30)" fill="rgb(189,189,189)" filter="url(#b3)"/><ellipse cx="33" cy="66" rx="13.0" ry="6.825" transform="rotate(0 33 66)" fill="rgb(199,199,199)" filter="url(#b3)"/><ellipse cx="15" cy="45" rx="14.0" ry="8.0" transform="rotate(-38 15 45)" fill="rgb(189,189,189)" filter="url(#b3)"/><ellipse cx="16.5" cy="44" rx="10" ry="4.8" transform="rotate(-38 16.5 44)" fill="rgb(214,214,214)" filter="url(#b1.6)"/><ellipse cx="13" cy="47.5" rx="7.5" ry="7.0" transform="rotate(0 13 47.5)" fill="rgb(214,214,214)" filter="url(#b1.6)"/><ellipse cx="19.5" cy="41.5" rx="6" ry="2.2" transform="rotate(-38 19.5 41.5)" fill="rgb(255,255,255)" filter="url(#b0.8)"/><ellipse cx="13" cy="47.5" rx="5.2" ry="5.720000000000001" transform="rotate(0 13 47.5)" fill="rgb(255,255,255)" filter="url(#b0.8)"/><ellipse cx="27.3" cy="20.0" rx="10" ry="10" transform="rotate(0 27.3 20.0)" fill="rgb(204,204,204)" filter="url(#b2.5)"/><ellipse cx="27.3" cy="19.5" rx="4.8" ry="4.56" transform="rotate(0 27.3 19.5)" fill="rgb(255,255,255)" filter="url(#b1)"/></g></g></g>
<g transform="translate(187.8,306)"><g clip-path="url(#fc)"><g filter="url(#jet3)"><rect x="-5" y="-5" width="69.2" height="87.6" fill="rgb(153,153,153)"/><ellipse cx="18" cy="42" rx="22" ry="32" transform="rotate(0 18 42)" fill="rgb(178,178,178)" filter="url(#b7)"/><ellipse cx="52" cy="6" rx="12" ry="10" transform="rotate(0 52 6)" fill="rgb(117,117,117)" filter="url(#b4)"/><ellipse cx="57" cy="42" rx="5" ry="22" transform="rotate(0 57 42)" fill="rgb(143,143,143)" filter="url(#b4)"/><ellipse cx="4" cy="66" rx="5" ry="6" transform="rotate(0 4 66)" fill="rgb(133,133,133)" filter="url(#b3)"/><ellipse cx="23" cy="30" rx="4" ry="10" transform="rotate(20 23 30)" fill="rgb(189,189,189)" filter="url(#b3)"/><ellipse cx="32" cy="66" rx="12.0" ry="6.300000000000001" transform="rotate(0 32 66)" fill="rgb(199,199,199)" filter="url(#b3)"/><ellipse cx="15" cy="45" rx="14.0" ry="8.0" transform="rotate(-38 15 45)" fill="rgb(189,189,189)" filter="url(#b3)"/><ellipse cx="16.5" cy="44" rx="10" ry="4.8" transform="rotate(-38 16.5 44)" fill="rgb(214,214,214)" filter="url(#b1.6)"/><ellipse cx="12.5" cy="47.5" rx="7.3" ry="6.8" transform="rotate(0 12.5 47.5)" fill="rgb(214,214,214)" filter="url(#b1.6)"/><ellipse cx="20" cy="41" rx="5.5" ry="2" transform="rotate(-38 20 41)" fill="rgb(242,242,242)" filter="url(#b0.8)"/><ellipse cx="12.5" cy="47.5" rx="5" ry="5.5" transform="rotate(0 12.5 47.5)" fill="rgb(255,255,255)" filter="url(#b0.8)"/><ellipse cx="27.2" cy="20.0" rx="9" ry="9" transform="rotate(0 27.2 20.0)" fill="rgb(204,204,204)" filter="url(#b2.5)"/><ellipse cx="27.2" cy="19.5" rx="4.3999999999999995" ry="4.18" transform="rotate(0 27.2 19.5)" fill="rgb(255,255,255)" filter="url(#b1)"/></g></g></g>
<g transform="translate(265.7,306)"><g clip-path="url(#fc)"><g filter="url(#jet4)"><rect x="-5" y="-5" width="69.2" height="87.6" fill="rgb(153,153,153)"/><ellipse cx="18" cy="42" rx="22" ry="32" transform="rotate(0 18 42)" fill="rgb(178,178,178)" filter="url(#b7)"/><ellipse cx="52" cy="6" rx="12" ry="10" transform="rotate(0 52 6)" fill="rgb(117,117,117)" filter="url(#b4)"/><ellipse cx="57" cy="42" rx="5" ry="22" transform="rotate(0 57 42)" fill="rgb(143,143,143)" filter="url(#b4)"/><ellipse cx="4" cy="66" rx="5" ry="6" transform="rotate(0 4 66)" fill="rgb(133,133,133)" filter="url(#b3)"/><ellipse cx="23" cy="30" rx="4" ry="10" transform="rotate(20 23 30)" fill="rgb(189,189,189)" filter="url(#b3)"/><ellipse cx="32" cy="66" rx="12.0" ry="6.300000000000001" transform="rotate(0 32 66)" fill="rgb(199,199,199)" filter="url(#b3)"/><ellipse cx="15" cy="45" rx="14.0" ry="8.0" transform="rotate(-38 15 45)" fill="rgb(189,189,189)" filter="url(#b3)"/><ellipse cx="16.5" cy="44" rx="10" ry="4.8" transform="rotate(-38 16.5 44)" fill="rgb(214,214,214)" filter="url(#b1.6)"/><ellipse cx="12.5" cy="47.5" rx="7.1" ry="6.6" transform="rotate(0 12.5 47.5)" fill="rgb(214,214,214)" filter="url(#b1.6)"/><ellipse cx="20" cy="41" rx="5" ry="1.8" transform="rotate(-38 20 41)" fill="rgb(235,235,235)" filter="url(#b0.8)"/><ellipse cx="12.5" cy="47.5" rx="4.8" ry="5.28" transform="rotate(0 12.5 47.5)" fill="rgb(255,255,255)" filter="url(#b0.8)"/><ellipse cx="27.0" cy="20.0" rx="6.8" ry="6.8" transform="rotate(0 27.0 20.0)" fill="rgb(204,204,204)" filter="url(#b1.8)"/><ellipse cx="27.0" cy="19.5" rx="4.0" ry="3.8" transform="rotate(0 27.0 19.5)" fill="rgb(255,255,255)" filter="url(#b1)"/></g></g></g>
<g transform="translate(343.6,306)"><g clip-path="url(#fc)"><g filter="url(#jet5)"><rect x="-5" y="-5" width="69.2" height="87.6" fill="rgb(153,153,153)"/><ellipse cx="18" cy="42" rx="22" ry="32" transform="rotate(0 18 42)" fill="rgb(178,178,178)" filter="url(#b7)"/><ellipse cx="52" cy="6" rx="12" ry="10" transform="rotate(0 52 6)" fill="rgb(117,117,117)" filter="url(#b4)"/><ellipse cx="57" cy="42" rx="5" ry="22" transform="rotate(0 57 42)" fill="rgb(143,143,143)" filter="url(#b4)"/><ellipse cx="4" cy="66" rx="5" ry="6" transform="rotate(0 4 66)" fill="rgb(133,133,133)" filter="url(#b3)"/><ellipse cx="23" cy="30" rx="4" ry="10" transform="rotate(20 23 30)" fill="rgb(189,189,189)" filter="url(#b3)"/><ellipse cx="32" cy="66" rx="12.0" ry="6.300000000000001" transform="rotate(0 32 66)" fill="rgb(199,199,199)" filter="url(#b3)"/><ellipse cx="15" cy="45" rx="14.0" ry="8.0" transform="rotate(-38 15 45)" fill="rgb(189,189,189)" filter="url(#b3)"/><ellipse cx="16.5" cy="44" rx="10" ry="4.8" transform="rotate(-38 16.5 44)" fill="rgb(214,214,214)" filter="url(#b1.6)"/><ellipse cx="13" cy="48" rx="6.8999999999999995" ry="6.3999999999999995" transform="rotate(0 13 48)" fill="rgb(214,214,214)" filter="url(#b1.6)"/><ellipse cx="20" cy="41" rx="5" ry="1.8" transform="rotate(-38 20 41)" fill="rgb(230,230,230)" filter="url(#b0.8)"/><ellipse cx="13" cy="48" rx="4.6" ry="5.06" transform="rotate(0 13 48)" fill="rgb(255,255,255)" filter="url(#b0.8)"/><ellipse cx="28.0" cy="20.0" rx="5.95" ry="5.95" transform="rotate(0 28.0 20.0)" fill="rgb(204,204,204)" filter="url(#b1.8)"/><ellipse cx="28.0" cy="19.5" rx="3.4" ry="3.23" transform="rotate(0 28.0 19.5)" fill="rgb(255,255,255)" filter="url(#b1)"/></g></g></g>
<g transform="translate(421.5,306)"><g clip-path="url(#fc)"><g filter="url(#jet0)"><rect x="-5" y="-5" width="69.2" height="87.6" fill="rgb(153,153,153)"/><ellipse cx="18" cy="42" rx="22" ry="32" transform="rotate(0 18 42)" fill="rgb(178,178,178)" filter="url(#b7)"/><ellipse cx="52" cy="6" rx="12" ry="10" transform="rotate(0 52 6)" fill="rgb(117,117,117)" filter="url(#b4)"/><ellipse cx="57" cy="42" rx="5" ry="22" transform="rotate(0 57 42)" fill="rgb(143,143,143)" filter="url(#b4)"/><ellipse cx="4" cy="66" rx="5" ry="6" transform="rotate(0 4 66)" fill="rgb(133,133,133)" filter="url(#b3)"/><ellipse cx="23" cy="30" rx="4" ry="10" transform="rotate(20 23 30)" fill="rgb(189,189,189)" filter="url(#b3)"/><ellipse cx="32" cy="66" rx="12.0" ry="6.300000000000001" transform="rotate(0 32 66)" fill="rgb(199,199,199)" filter="url(#b3)"/><ellipse cx="15" cy="45" rx="14.0" ry="8.0" transform="rotate(-38 15 45)" fill="rgb(189,189,189)" filter="url(#b3)"/><ellipse cx="16.5" cy="44" rx="10" ry="4.8" transform="rotate(-38 16.5 44)" fill="rgb(214,214,214)" filter="url(#b1.6)"/><ellipse cx="13" cy="48" rx="6.7" ry="6.2" transform="rotate(0 13 48)" fill="rgb(214,214,214)" filter="url(#b1.6)"/><ellipse cx="20" cy="41" rx="5" ry="1.6" transform="rotate(-38 20 41)" fill="rgb(230,230,230)" filter="url(#b0.8)"/><ellipse cx="13" cy="48" rx="4.4" ry="4.840000000000001" transform="rotate(0 13 48)" fill="rgb(255,255,255)" filter="url(#b0.8)"/><ellipse cx="28.5" cy="20.0" rx="5.5249999999999995" ry="5.5249999999999995" transform="rotate(0 28.5 20.0)" fill="rgb(204,204,204)" filter="url(#b1.8)"/><ellipse cx="28.5" cy="19.5" rx="3.1" ry="2.945" transform="rotate(0 28.5 19.5)" fill="rgb(255,255,255)" filter="url(#b1)"/></g></g></g>
<g transform="translate(499.4,306)"><g clip-path="url(#fc)"><g filter="url(#jet1)"><rect x="-5" y="-5" width="69.2" height="87.6" fill="rgb(153,153,153)"/><ellipse cx="18" cy="42" rx="22" ry="32" transform="rotate(0 18 42)" fill="rgb(178,178,178)" filter="url(#b7)"/><ellipse cx="52" cy="6" rx="12" ry="10" transform="rotate(0 52 6)" fill="rgb(117,117,117)" filter="url(#b4)"/><ellipse cx="57" cy="42" rx="5" ry="22" transform="rotate(0 57 42)" fill="rgb(143,143,143)" filter="url(#b4)"/><ellipse cx="4" cy="66" rx="5" ry="6" transform="rotate(0 4 66)" fill="rgb(133,133,133)" filter="url(#b3)"/><ellipse cx="23" cy="30" rx="4" ry="10" transform="rotate(20 23 30)" fill="rgb(189,189,189)" filter="url(#b3)"/><ellipse cx="32" cy="65.5" rx="12.0" ry="6.300000000000001" transform="rotate(0 32 65.5)" fill="rgb(199,199,199)" filter="url(#b3)"/><ellipse cx="15" cy="45" rx="14.0" ry="8.0" transform="rotate(-38 15 45)" fill="rgb(189,189,189)" filter="url(#b3)"/><ellipse cx="16.5" cy="44" rx="10" ry="4.8" transform="rotate(-38 16.5 44)" fill="rgb(214,214,214)" filter="url(#b1.6)"/><ellipse cx="13.5" cy="48.5" rx="6.6" ry="6.1" transform="rotate(0 13.5 48.5)" fill="rgb(214,214,214)" filter="url(#b1.6)"/><ellipse cx="20" cy="41" rx="4.5" ry="1.5" transform="rotate(-38 20 41)" fill="rgb(224,224,224)" filter="url(#b0.8)"/><ellipse cx="13.5" cy="48.5" rx="4.3" ry="4.73" transform="rotate(0 13.5 48.5)" fill="rgb(255,255,255)" filter="url(#b0.8)"/><ellipse cx="28.5" cy="20.5" rx="5.1" ry="5.1" transform="rotate(0 28.5 20.5)" fill="rgb(204,204,204)" filter="url(#b1.8)"/><ellipse cx="28.5" cy="20" rx="2.8000000000000003" ry="2.66" transform="rotate(0 28.5 20)" fill="rgb(255,255,255)" filter="url(#b1)"/></g></g></g>
<g transform="translate(577.3,306)"><g clip-path="url(#fc)"><g filter="url(#jet2)"><rect x="-5" y="-5" width="69.2" height="87.6" fill="rgb(153,153,153)"/><ellipse cx="18" cy="42" rx="22" ry="32" transform="rotate(0 18 42)" fill="rgb(178,178,178)" filter="url(#b7)"/><ellipse cx="52" cy="6" rx="12" ry="10" transform="rotate(0 52 6)" fill="rgb(117,117,117)" filter="url(#b4)"/><ellipse cx="57" cy="42" rx="5" ry="22" transform="rotate(0 57 42)" fill="rgb(143,143,143)" filter="url(#b4)"/><ellipse cx="4" cy="66" rx="5" ry="6" transform="rotate(0 4 66)" fill="rgb(133,133,133)" filter="url(#b3)"/><ellipse cx="23" cy="30" rx="4" ry="10" transform="rotate(20 23 30)" fill="rgb(189,189,189)" filter="url(#b3)"/><ellipse cx="32" cy="65.5" rx="12.0" ry="6.300000000000001" transform="rotate(0 32 65.5)" fill="rgb(199,199,199)" filter="url(#b3)"/><ellipse cx="15" cy="45" rx="14.0" ry="8.0" transform="rotate(-38 15 45)" fill="rgb(189,189,189)" filter="url(#b3)"/><ellipse cx="16.5" cy="44" rx="10" ry="4.8" transform="rotate(-38 16.5 44)" fill="rgb(214,214,214)" filter="url(#b1.6)"/><ellipse cx="13.5" cy="49" rx="6.5" ry="6.0" transform="rotate(0 13.5 49)" fill="rgb(214,214,214)" filter="url(#b1.6)"/><ellipse cx="20" cy="41" rx="4.5" ry="1.5" transform="rotate(-38 20 41)" fill="rgb(219,219,219)" filter="url(#b0.8)"/><ellipse cx="13.5" cy="49" rx="4.2" ry="4.620000000000001" transform="rotate(0 13.5 49)" fill="rgb(255,255,255)" filter="url(#b0.8)"/><ellipse cx="29" cy="20.5" rx="5.1" ry="5.1" transform="rotate(0 29 20.5)" fill="rgb(204,204,204)" filter="url(#b1.8)"/><ellipse cx="29" cy="20" rx="2.2" ry="2.09" transform="rotate(0 29 20)" fill="rgb(255,255,255)" filter="url(#b1)"/></g></g></g>
<rect x="108" y="128" width="607" height="8" fill="#bdbdbd"/>
<rect x="31" y="260" width="684" height="8" fill="#bdbdbd"/>
<rect x="31" y="392" width="217" height="8" fill="#bdbdbd"/>
<rect x="39" y="112" width="14" height="3.5" fill="#000"/>
<text x="0.8" y="23.2" font-size="38.5" fill="#000" font-weight="700">a</text>
<text x="30" y="20.5" font-size="24" fill="#000" letter-spacing="1.2">Moving disc</text>
<text x="62.5" y="40.8" font-size="18" fill="#000" letter-spacing="1">0.00</text>
<text x="377.3" y="40.5" font-size="18" fill="#000" letter-spacing="1">0.13</text>
<text x="686.3" y="40.5" font-size="18" fill="#000" letter-spacing="1">0.26</text>
<text x="62.5" y="172.5" font-size="18" fill="#000" letter-spacing="1">0.30</text>
<text x="377.3" y="172.6" font-size="18" fill="#000" letter-spacing="1">0.43</text>
<text x="686.3" y="172.6" font-size="18" fill="#000" letter-spacing="1">0.56</text>
<text x="62.5" y="304.2" font-size="18" fill="#000" letter-spacing="1">0.59</text>
<text x="377.3" y="304.1" font-size="18" fill="#000" letter-spacing="1">0.73</text>
<text x="606.5" y="304.1" font-size="18" fill="#000" letter-spacing="1">0.83 s</text>
<text x="30.5" y="137.1" font-size="18" fill="#000" letter-spacing="1.2">1 mm</text>
<text x="602.5" y="153.8" font-size="19" fill="#a0a0a0" letter-spacing="0.3">Visual stimulus</text>
<rect x="643" y="326" width="7" height="47.5" fill="url(#cbar)"/>
<text x="641" y="326.8" font-size="17.5" fill="#000" letter-spacing="0.3">+3 %</text>
<text x="641.5" y="390" font-size="17.5" fill="#000" letter-spacing="0.3">-3 %</text>
<text transform="translate(690,344.6) scale(1.06,1)" font-size="20" fill="#000">D</text>
<text transform="translate(671.2,362.5) scale(1.08,1)" font-size="20" fill="#000">P</text>
<text transform="translate(708,362.5) scale(1.05,1)" font-size="20" fill="#000">A</text>
<text transform="translate(690.5,381.5) scale(1.08,1)" font-size="20" fill="#000">V</text>
<rect x="686.2" y="354.1" width="19.8" height="4.4" fill="#000"/>
<rect x="693.8" y="350" width="4.7" height="14.6" fill="#000"/>
<g transform="translate(31,459) scale(2.3559,2.3355)"><g clip-path="url(#fc)"><g filter="url(#jetb)"><rect x="-5" y="-5" width="69.2" height="87.6" fill="rgb(149,149,149)"/><ellipse cx="20" cy="40" rx="22" ry="30" transform="rotate(0 20 40)" fill="rgb(161,161,161)" filter="url(#b8)"/><ellipse cx="4" cy="4" rx="9" ry="8" transform="rotate(0 4 4)" fill="rgb(135,135,135)" filter="url(#b4)"/><ellipse cx="56" cy="40" rx="6" ry="30" transform="rotate(0 56 40)" fill="rgb(138,138,138)" filter="url(#b4)"/><ellipse cx="3" cy="62" rx="4" ry="6" transform="rotate(0 3 62)" fill="rgb(125,125,125)" filter="url(#b3)"/><ellipse cx="40" cy="8" rx="8" ry="6" transform="rotate(0 40 8)" fill="rgb(140,140,140)" filter="url(#b4)"/><ellipse cx="34.3" cy="65.7" rx="7" ry="5" transform="rotate(0 34.3 65.7)" fill="rgb(178,178,178)" filter="url(#b3)"/><ellipse cx="25" cy="30" rx="6" ry="10" transform="rotate(15 25 30)" fill="rgb(189,189,189)" filter="url(#b3.5)"/><ellipse cx="14" cy="46" rx="13" ry="9" transform="rotate(-40 14 46)" fill="rgb(201,201,201)" filter="url(#b3.5)"/><ellipse cx="12" cy="47" rx="6" ry="5" transform="rotate(-30 12 47)" fill="rgb(204,204,204)" filter="url(#b2)"/><ellipse cx="13.6" cy="43.9" rx="2.2" ry="2" transform="rotate(0 13.6 43.9)" fill="rgb(235,235,235)" filter="url(#b1)"/><ellipse cx="9.9" cy="48.2" rx="2" ry="1.8" transform="rotate(0 9.9 48.2)" fill="rgb(230,230,230)" filter="url(#b1)"/><ellipse cx="14.2" cy="50.8" rx="2" ry="1.8" transform="rotate(0 14.2 50.8)" fill="rgb(230,230,230)" filter="url(#b1)"/><ellipse cx="20.5" cy="41" rx="7.5" ry="4.2" transform="rotate(-32 20.5 41)" fill="rgb(217,217,217)" filter="url(#b1.5)"/><ellipse cx="21" cy="40.6" rx="5.2" ry="2.6" transform="rotate(-32 21 40.6)" fill="rgb(255,255,255)" filter="url(#b0.8)"/><ellipse cx="28" cy="21" rx="14" ry="14.5" transform="rotate(0 28 21)" fill="rgb(184,184,184)" filter="url(#b3.5)"/><ellipse cx="28" cy="20.5" rx="10" ry="10.5" transform="rotate(0 28 20.5)" fill="rgb(204,204,204)" filter="url(#b2.5)"/><ellipse cx="27.6" cy="19.6" rx="5.4" ry="5.4" transform="rotate(0 27.6 19.6)" fill="rgb(255,255,255)" filter="url(#b0.8)"/><ellipse cx="28.8" cy="21.3" rx="4.3" ry="4.6" transform="rotate(-30 28.8 21.3)" fill="rgb(255,255,255)" filter="url(#b0.8)"/></g></g></g>
<circle cx="95.8" cy="501.8" r="5.6" fill="none" stroke="#a89cf0" stroke-width="1.2"/><circle cx="95.8" cy="501.8" r="3.6" fill="none" stroke="#a89cf0" stroke-width="1"/>
<circle cx="63.2" cy="563.2" r="4.8" fill="none" stroke="#3aa83a" stroke-width="1.2"/>
<circle cx="111.4" cy="613.5" r="4.8" fill="none" stroke="#d040a0" stroke-width="1.2"/>
<path d="M86.5 474.3 L92.4 473.3 L91.1 487.6 Z" fill="#fff" stroke="#000" stroke-width="1" stroke-linejoin="round"/>
<path d="M50 545.3 L55.8 543.4 L58.6 556.8 Z" fill="#fff" stroke="#000" stroke-width="1" stroke-linejoin="round"/>
<path d="M119.8 590.5 L124.7 593.1 L115.8 603.5 Z" fill="#fff" stroke="#000" stroke-width="1" stroke-linejoin="round"/>
<text transform="translate(1.3,464.5) scale(1.1,1)" font-size="39" fill="#000" font-weight="700">b</text>
<text x="60.3" y="479.2" font-size="21.5" fill="#000" font-weight="700">V1</text>
<text x="18.3" y="540.2" font-size="22.5" fill="#000" font-weight="700" letter-spacing="0.3">POR</text>
<text x="124.2" y="594.5" font-size="21" fill="#000" font-weight="700" letter-spacing="1.5">ECT</text>
<rect x="175.8" y="578" width="6.8" height="47" fill="url(#cbar)"/>
<text x="174" y="578.5" font-size="17.5" fill="#000" letter-spacing="0.3">+3 %</text>
<text x="174.8" y="642.3" font-size="17.5" fill="#000" letter-spacing="0.3">-3 %</text>
<rect x="46" y="649" width="32.2" height="5" fill="#000"/>
<text x="83.5" y="659.5" font-size="18" fill="#000" letter-spacing="1.4">1 mm</text>
<text transform="translate(212.6,465.4) scale(1.1,1)" font-size="39" fill="#000" font-weight="700">c</text>
<text x="203" y="541.6" font-size="19" fill="#000" letter-spacing="0.1">50% Max</text>
<line x1="227.4" y1="545.8" x2="510.5" y2="545.8" stroke="#000" stroke-width="1.4" stroke-dasharray="1.4 2.6"/>
<rect x="246" y="643" width="116" height="8" fill="#808080"/>
<text x="282" y="638.5" font-size="19.5" fill="#000" letter-spacing="0.05">Visual stimulus</text>
<text x="389" y="654" font-size="16" fill="#111" letter-spacing="0.6">(0.66 s)</text>
<rect x="419.8" y="441.5" width="76.2" height="73.6" fill="#fff" stroke="#222" stroke-width="1.4"/>
<line x1="424.2" y1="455.5" x2="443" y2="455.5" stroke="#1a48e6" stroke-width="3.3"/>
<line x1="424.2" y1="477.8" x2="443" y2="477.8" stroke="#1ec81e" stroke-width="3.3"/>
<line x1="424.2" y1="499.9" x2="443" y2="499.9" stroke="#f01ef0" stroke-width="3.3"/>
<text x="449" y="462.4" font-size="19.5" fill="#000" letter-spacing="0.8">V1</text>
<text x="448.3" y="484" font-size="19.5" fill="#000" letter-spacing="0.8">POR</text>
<text x="448.3" y="506.4" font-size="19.5" fill="#000" letter-spacing="0.8">ECT</text>
<path d="M228.5 619.2 L234.3 625.5 L240.1 626.6 L245.9 627.1 L251.7 629.7 L257.6 627.1 L263.4 629.7 L269.2 629.2 L275.0 604.4 L280.8 569.5 L286.6 534.7 L292.4 507.5 L298.2 492.5 L304.0 484.2 L309.8 472.5 L315.6 476.4 L321.5 474.8 L327.3 479.0 L333.1 488.2 L338.9 491.8 L344.7 502.0 L350.5 513.8 L356.3 520.0 L362.1 534.5 L367.9 542.4 L373.8 548.2 L379.6 560.1 L385.4 564.2 L391.2 572.9 L397.0 582.0 L402.8 586.9 L408.6 590.8 L414.4 593.0 L420.2 597.7 L426.0 608.7 L431.9 612.6 L437.7 617.5 L443.5 624.6 L449.3 621.5 L455.1 628.4 L460.9 624.5 L466.7 624.5 L472.5 622.5 L478.3 620.3 L484.1 615.7 L489.9 616.9 L495.8 621.7 L501.6 623.8 L507.4 620.6" fill="none" stroke="#1a48e6" stroke-width="1.9" stroke-linejoin="round"/><circle cx="228.5" cy="619.2" r="2.3" fill="#1a48e6"/><circle cx="234.3" cy="625.5" r="2.3" fill="#1a48e6"/><circle cx="240.1" cy="626.6" r="2.3" fill="#1a48e6"/><circle cx="245.9" cy="627.1" r="2.3" fill="#1a48e6"/><circle cx="251.7" cy="629.7" r="2.3" fill="#1a48e6"/><circle cx="257.6" cy="627.1" r="2.3" fill="#1a48e6"/><circle cx="263.4" cy="629.7" r="2.3" fill="#1a48e6"/><circle cx="269.2" cy="629.2" r="2.3" fill="#1a48e6"/><circle cx="275.0" cy="604.4" r="2.3" fill="#1a48e6"/><circle cx="280.8" cy="569.5" r="2.3" fill="#1a48e6"/><circle cx="286.6" cy="534.7" r="2.3" fill="#1a48e6"/><circle cx="292.4" cy="507.5" r="2.3" fill="#1a48e6"/><circle cx="298.2" cy="492.5" r="2.3" fill="#1a48e6"/><circle cx="304.0" cy="484.2" r="2.3" fill="#1a48e6"/><circle cx="309.8" cy="472.5" r="2.3" fill="#1a48e6"/><circle cx="315.6" cy="476.4" r="2.3" fill="#1a48e6"/><circle cx="321.5" cy="474.8" r="2.3" fill="#1a48e6"/><circle cx="327.3" cy="479.0" r="2.3" fill="#1a48e6"/><circle cx="333.1" cy="488.2" r="2.3" fill="#1a48e6"/><circle cx="338.9" cy="491.8" r="2.3" fill="#1a48e6"/><circle cx="344.7" cy="502.0" r="2.3" fill="#1a48e6"/><circle cx="350.5" cy="513.8" r="2.3" fill="#1a48e6"/><circle cx="356.3" cy="520.0" r="2.3" fill="#1a48e6"/><circle cx="362.1" cy="534.5" r="2.3" fill="#1a48e6"/><circle cx="367.9" cy="542.4" r="2.3" fill="#1a48e6"/><circle cx="373.8" cy="548.2" r="2.3" fill="#1a48e6"/><circle cx="379.6" cy="560.1" r="2.3" fill="#1a48e6"/><circle cx="385.4" cy="564.2" r="2.3" fill="#1a48e6"/><circle cx="391.2" cy="572.9" r="2.3" fill="#1a48e6"/><circle cx="397.0" cy="582.0" r="2.3" fill="#1a48e6"/><circle cx="402.8" cy="586.9" r="2.3" fill="#1a48e6"/><circle cx="408.6" cy="590.8" r="2.3" fill="#1a48e6"/><circle cx="414.4" cy="593.0" r="2.3" fill="#1a48e6"/><circle cx="420.2" cy="597.7" r="2.3" fill="#1a48e6"/><circle cx="426.0" cy="608.7" r="2.3" fill="#1a48e6"/><circle cx="431.9" cy="612.6" r="2.3" fill="#1a48e6"/><circle cx="437.7" cy="617.5" r="2.3" fill="#1a48e6"/><circle cx="443.5" cy="624.6" r="2.3" fill="#1a48e6"/><circle cx="449.3" cy="621.5" r="2.3" fill="#1a48e6"/><circle cx="455.1" cy="628.4" r="2.3" fill="#1a48e6"/><circle cx="460.9" cy="624.5" r="2.3" fill="#1a48e6"/><circle cx="466.7" cy="624.5" r="2.3" fill="#1a48e6"/><circle cx="472.5" cy="622.5" r="2.3" fill="#1a48e6"/><circle cx="478.3" cy="620.3" r="2.3" fill="#1a48e6"/><circle cx="484.1" cy="615.7" r="2.3" fill="#1a48e6"/><circle cx="489.9" cy="616.9" r="2.3" fill="#1a48e6"/><circle cx="495.8" cy="621.7" r="2.3" fill="#1a48e6"/><circle cx="501.6" cy="623.8" r="2.3" fill="#1a48e6"/><circle cx="507.4" cy="620.6" r="2.3" fill="#1a48e6"/>
<path d="M228.5 620.3 L234.3 621.8 L240.1 616.6 L245.9 621.3 L251.7 625.5 L257.6 622.4 L263.4 624.0 L269.2 628.7 L275.0 613.0 L280.8 594.8 L286.6 573.0 L292.4 551.0 L298.2 530.7 L304.0 514.7 L309.8 498.4 L315.6 492.9 L321.5 483.3 L327.3 483.7 L333.1 480.7 L338.9 472.5 L344.7 473.3 L350.5 473.3 L356.3 479.4 L362.1 492.4 L367.9 490.1 L373.8 493.3 L379.6 500.8 L385.4 511.2 L391.2 505.1 L397.0 514.9 L402.8 523.0 L408.6 530.6 L414.4 538.4 L420.2 552.5 L426.0 563.7 L431.9 577.1 L437.7 582.0 L443.5 597.0 L449.3 594.9 L455.1 603.2 L460.9 608.6 L466.7 619.2 L472.5 622.6 L478.3 625.8 L484.1 629.4 L489.9 630.8 L495.8 636.8 L501.6 642.1 L507.4 644.7" fill="none" stroke="#1ec81e" stroke-width="1.9" stroke-linejoin="round"/><circle cx="228.5" cy="620.3" r="2.3" fill="#1ec81e"/><circle cx="234.3" cy="621.8" r="2.3" fill="#1ec81e"/><circle cx="240.1" cy="616.6" r="2.3" fill="#1ec81e"/><circle cx="245.9" cy="621.3" r="2.3" fill="#1ec81e"/><circle cx="251.7" cy="625.5" r="2.3" fill="#1ec81e"/><circle cx="257.6" cy="622.4" r="2.3" fill="#1ec81e"/><circle cx="263.4" cy="624.0" r="2.3" fill="#1ec81e"/><circle cx="269.2" cy="628.7" r="2.3" fill="#1ec81e"/><circle cx="275.0" cy="613.0" r="2.3" fill="#1ec81e"/><circle cx="280.8" cy="594.8" r="2.3" fill="#1ec81e"/><circle cx="286.6" cy="573.0" r="2.3" fill="#1ec81e"/><circle cx="292.4" cy="551.0" r="2.3" fill="#1ec81e"/><circle cx="298.2" cy="530.7" r="2.3" fill="#1ec81e"/><circle cx="304.0" cy="514.7" r="2.3" fill="#1ec81e"/><circle cx="309.8" cy="498.4" r="2.3" fill="#1ec81e"/><circle cx="315.6" cy="492.9" r="2.3" fill="#1ec81e"/><circle cx="321.5" cy="483.3" r="2.3" fill="#1ec81e"/><circle cx="327.3" cy="483.7" r="2.3" fill="#1ec81e"/><circle cx="333.1" cy="480.7" r="2.3" fill="#1ec81e"/><circle cx="338.9" cy="472.5" r="2.3" fill="#1ec81e"/><circle cx="344.7" cy="473.3" r="2.3" fill="#1ec81e"/><circle cx="350.5" cy="473.3" r="2.3" fill="#1ec81e"/><circle cx="356.3" cy="479.4" r="2.3" fill="#1ec81e"/><circle cx="362.1" cy="492.4" r="2.3" fill="#1ec81e"/><circle cx="367.9" cy="490.1" r="2.3" fill="#1ec81e"/><circle cx="373.8" cy="493.3" r="2.3" fill="#1ec81e"/><circle cx="379.6" cy="500.8" r="2.3" fill="#1ec81e"/><circle cx="385.4" cy="511.2" r="2.3" fill="#1ec81e"/><circle cx="391.2" cy="505.1" r="2.3" fill="#1ec81e"/><circle cx="397.0" cy="514.9" r="2.3" fill="#1ec81e"/><circle cx="402.8" cy="523.0" r="2.3" fill="#1ec81e"/><circle cx="408.6" cy="530.6" r="2.3" fill="#1ec81e"/><circle cx="414.4" cy="538.4" r="2.3" fill="#1ec81e"/><circle cx="420.2" cy="552.5" r="2.3" fill="#1ec81e"/><circle cx="426.0" cy="563.7" r="2.3" fill="#1ec81e"/><circle cx="431.9" cy="577.1" r="2.3" fill="#1ec81e"/><circle cx="437.7" cy="582.0" r="2.3" fill="#1ec81e"/><circle cx="443.5" cy="597.0" r="2.3" fill="#1ec81e"/><circle cx="449.3" cy="594.9" r="2.3" fill="#1ec81e"/><circle cx="455.1" cy="603.2" r="2.3" fill="#1ec81e"/><circle cx="460.9" cy="608.6" r="2.3" fill="#1ec81e"/><circle cx="466.7" cy="619.2" r="2.3" fill="#1ec81e"/><circle cx="472.5" cy="622.6" r="2.3" fill="#1ec81e"/><circle cx="478.3" cy="625.8" r="2.3" fill="#1ec81e"/><circle cx="484.1" cy="629.4" r="2.3" fill="#1ec81e"/><circle cx="489.9" cy="630.8" r="2.3" fill="#1ec81e"/><circle cx="495.8" cy="636.8" r="2.3" fill="#1ec81e"/><circle cx="501.6" cy="642.1" r="2.3" fill="#1ec81e"/><circle cx="507.4" cy="644.7" r="2.3" fill="#1ec81e"/>
<path d="M228.5 598.7 L234.3 628.7 L240.1 621.8 L245.9 621.8 L251.7 637.1 L257.6 627.6 L263.4 617.6 L269.2 632.4 L275.0 616.6 L280.8 606.0 L286.6 594.5 L292.4 567.0 L298.2 571.3 L304.0 549.8 L309.8 526.9 L315.6 505.6 L321.5 503.0 L327.3 483.7 L333.1 487.6 L338.9 483.3 L344.7 472.5 L350.5 483.5 L356.3 487.8 L362.1 489.0 L367.9 499.2 L373.8 500.8 L379.6 490.3 L385.4 497.3 L391.2 491.1 L397.0 499.9 L402.8 509.7 L408.6 526.0 L414.4 528.2 L420.2 531.8 L426.0 536.0 L431.9 568.0 L437.7 575.0 L443.5 585.1 L449.3 566.2 L455.1 599.6 L460.9 595.5 L466.7 589.1 L472.5 622.5 L478.3 609.8 L484.1 630.9 L489.9 615.7 L495.8 623.4 L501.6 651.6 L507.4 633.3 L510.5 646.0" fill="none" stroke="#f01ef0" stroke-width="1.9" stroke-linejoin="round"/><circle cx="228.5" cy="598.7" r="2.3" fill="#f01ef0"/><circle cx="234.3" cy="628.7" r="2.3" fill="#f01ef0"/><circle cx="240.1" cy="621.8" r="2.3" fill="#f01ef0"/><circle cx="245.9" cy="621.8" r="2.3" fill="#f01ef0"/><circle cx="251.7" cy="637.1" r="2.3" fill="#f01ef0"/><circle cx="257.6" cy="627.6" r="2.3" fill="#f01ef0"/><circle cx="263.4" cy="617.6" r="2.3" fill="#f01ef0"/><circle cx="269.2" cy="632.4" r="2.3" fill="#f01ef0"/><circle cx="275.0" cy="616.6" r="2.3" fill="#f01ef0"/><circle cx="280.8" cy="606.0" r="2.3" fill="#f01ef0"/><circle cx="286.6" cy="594.5" r="2.3" fill="#f01ef0"/><circle cx="292.4" cy="567.0" r="2.3" fill="#f01ef0"/><circle cx="298.2" cy="571.3" r="2.3" fill="#f01ef0"/><circle cx="304.0" cy="549.8" r="2.3" fill="#f01ef0"/><circle cx="309.8" cy="526.9" r="2.3" fill="#f01ef0"/><circle cx="315.6" cy="505.6" r="2.3" fill="#f01ef0"/><circle cx="321.5" cy="503.0" r="2.3" fill="#f01ef0"/><circle cx="327.3" cy="483.7" r="2.3" fill="#f01ef0"/><circle cx="333.1" cy="487.6" r="2.3" fill="#f01ef0"/><circle cx="338.9" cy="483.3" r="2.3" fill="#f01ef0"/><circle cx="344.7" cy="472.5" r="2.3" fill="#f01ef0"/><circle cx="350.5" cy="483.5" r="2.3" fill="#f01ef0"/><circle cx="356.3" cy="487.8" r="2.3" fill="#f01ef0"/><circle cx="362.1" cy="489.0" r="2.3" fill="#f01ef0"/><circle cx="367.9" cy="499.2" r="2.3" fill="#f01ef0"/><circle cx="373.8" cy="500.8" r="2.3" fill="#f01ef0"/><circle cx="379.6" cy="490.3" r="2.3" fill="#f01ef0"/><circle cx="385.4" cy="497.3" r="2.3" fill="#f01ef0"/><circle cx="391.2" cy="491.1" r="2.3" fill="#f01ef0"/><circle cx="397.0" cy="499.9" r="2.3" fill="#f01ef0"/><circle cx="402.8" cy="509.7" r="2.3" fill="#f01ef0"/><circle cx="408.6" cy="526.0" r="2.3" fill="#f01ef0"/><circle cx="414.4" cy="528.2" r="2.3" fill="#f01ef0"/><circle cx="420.2" cy="531.8" r="2.3" fill="#f01ef0"/><circle cx="426.0" cy="536.0" r="2.3" fill="#f01ef0"/><circle cx="431.9" cy="568.0" r="2.3" fill="#f01ef0"/><circle cx="437.7" cy="575.0" r="2.3" fill="#f01ef0"/><circle cx="443.5" cy="585.1" r="2.3" fill="#f01ef0"/><circle cx="449.3" cy="566.2" r="2.3" fill="#f01ef0"/><circle cx="455.1" cy="599.6" r="2.3" fill="#f01ef0"/><circle cx="460.9" cy="595.5" r="2.3" fill="#f01ef0"/><circle cx="466.7" cy="589.1" r="2.3" fill="#f01ef0"/><circle cx="472.5" cy="622.5" r="2.3" fill="#f01ef0"/><circle cx="478.3" cy="609.8" r="2.3" fill="#f01ef0"/><circle cx="484.1" cy="630.9" r="2.3" fill="#f01ef0"/><circle cx="489.9" cy="615.7" r="2.3" fill="#f01ef0"/><circle cx="495.8" cy="623.4" r="2.3" fill="#f01ef0"/><circle cx="501.6" cy="651.6" r="2.3" fill="#f01ef0"/><circle cx="507.4" cy="633.3" r="2.3" fill="#f01ef0"/>
<path d="M284.7 548.3 L288.59999999999997 556.3 L286.4 556.3 L286.4 564.3 L283.0 564.3 L283.0 556.3 L280.8 556.3 Z" fill="#1838d0" stroke="#000" stroke-width="1.1" stroke-linejoin="miter"/>
<path d="M293.4 548.3 L297.29999999999995 556.3 L295.09999999999997 556.3 L295.09999999999997 564.3 L291.7 564.3 L291.7 556.3 L289.5 556.3 Z" fill="#14b014" stroke="#000" stroke-width="1.1" stroke-linejoin="miter"/>
<path d="M305.3 548.3 L309.2 556.3 L307.0 556.3 L307.0 564.3 L303.6 564.3 L303.6 556.3 L301.40000000000003 556.3 Z" fill="#dc14dc" stroke="#000" stroke-width="1.1" stroke-linejoin="miter"/>
<path d="M309.8 467.6 L313.7 460.1 L311.40000000000003 460.1 L311.40000000000003 452.6 L308.2 452.6 L308.2 460.1 L305.90000000000003 460.1 Z" fill="#fff" stroke="#1a48e6" stroke-width="1.2" stroke-linejoin="miter"/>
<path d="M338.4 467.6 L342.29999999999995 460.1 L340.0 460.1 L340.0 452.6 L336.79999999999995 452.6 L336.79999999999995 460.1 L334.5 460.1 Z" fill="#fff" stroke="#1ec81e" stroke-width="1.2" stroke-linejoin="miter"/>
<path d="M344.3 467.6 L348.2 460.1 L345.90000000000003 460.1 L345.90000000000003 452.6 L342.7 452.6 L342.7 460.1 L340.40000000000003 460.1 Z" fill="#fff" stroke="#f01ef0" stroke-width="1.2" stroke-linejoin="miter"/>
<text transform="translate(521,465) scale(1.12,1)" font-size="39" fill="#000" font-weight="700">d</text>
<rect x="613.2" y="546.6" width="25.7" height="98.5" fill="#1450ff" stroke="#111" stroke-width="1.4"/>
<rect x="662.4" y="508.4" width="26.0" height="136.7" fill="#00c800" stroke="#111" stroke-width="1.4"/>
<rect x="712" y="502.7" width="25.8" height="142.4" fill="#ff00ff" stroke="#111" stroke-width="1.4"/>
<path d="M626.1 544.4 V548.6 M621.6 544.4 H630.6 M621.6 548.6 H630.6" stroke="#111" stroke-width="1.4" fill="none"/>
<path d="M675.5 503.4 V513.2 M671.0 503.4 H680.0 M671.0 513.2 H680.0" stroke="#111" stroke-width="1.4" fill="none"/>
<path d="M724.9 493.1 V513.2 M720.4 493.1 H729.4 M720.4 513.2 H729.4" stroke="#111" stroke-width="1.4" fill="none"/>
<path d="M594.3 454 V645.1 H748.3" fill="none" stroke="#222" stroke-width="1.5"/>
<line x1="594.3" y1="597.3" x2="600" y2="597.3" stroke="#222" stroke-width="1.4"/>
<line x1="594.3" y1="549.5" x2="600" y2="549.5" stroke="#222" stroke-width="1.4"/>
<line x1="594.3" y1="501.7" x2="600" y2="501.7" stroke="#222" stroke-width="1.4"/>
<text x="563" y="652.9" font-size="20" fill="#333" letter-spacing="1.2">0.0</text>
<text x="563" y="605.1" font-size="20" fill="#333" letter-spacing="1.2">0.1</text>
<text x="563" y="557.3" font-size="20" fill="#333" letter-spacing="1.2">0.2</text>
<text x="563" y="509.5" font-size="20" fill="#333" letter-spacing="1.2">0.3</text>
<text x="614" y="662.2" font-size="19" fill="#000" letter-spacing="0.6">V1</text>
<text x="650.5" y="662.2" font-size="19" fill="#000" letter-spacing="0.6">POR</text>
<text x="706" y="662.2" font-size="19" fill="#000" letter-spacing="0.6">ECT</text>
<text x="690.8" y="682.3" font-size="20" fill="#000" letter-spacing="0.1">(n = 13)</text>
<text transform="translate(538.5,628.5) rotate(-90)" font-size="19" fill="#333" letter-spacing="1.2">Half maximum</text>
<text transform="translate(554,611) rotate(-90)" font-size="19" fill="#333" letter-spacing="1.2">latency (s)</text>
<text x="639.2" y="447.9" font-size="16.5" fill="#e0202a"><tspan font-style="italic">p</tspan><tspan dx="3">=</tspan><tspan dx="3.2" letter-spacing="0.2">0.0005</tspan></text>
<line x1="625.3" y1="451.3" x2="717.5" y2="451.3" stroke="#808080" stroke-width="1.5"/>
<text x="598.4" y="474.7" font-size="16.5" fill="#e0202a"><tspan font-style="italic">p</tspan><tspan dx="3">=</tspan><tspan dx="3.2">0.0005</tspan></text>
<line x1="625.3" y1="478" x2="667" y2="478" stroke="#808080" stroke-width="1.5"/>
<text x="685.6" y="474.7" font-size="16.5" fill="#333"><tspan font-style="italic">p</tspan><tspan dx="3.5">=</tspan><tspan dx="5" letter-spacing="0.2">1.000</tspan></text>
<line x1="676.3" y1="478" x2="717.7" y2="478" stroke="#808080" stroke-width="1.5"/>
</svg></body></html>
